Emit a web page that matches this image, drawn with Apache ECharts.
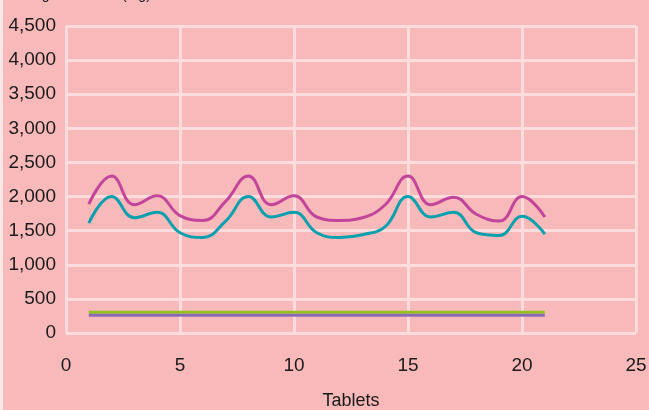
<!DOCTYPE html>
<html>
<head>
<meta charset="utf-8">
<script src="https://cdn.jsdelivr.net/npm/echarts@6/dist/echarts.min.js"></script>
<style>
  html, body { margin: 0; padding: 0; background: #fde6e6; }
  #chart { position: absolute; left: 3px; top: 0; width: 646px; height: 410px; }
</style>
</head>
<body>
<div id="chart"></div>
<script>
// Tablet numbers along the x axis
const tablets = [1, 2, 3, 4, 5, 6, 7, 8, 9, 10, 11, 12, 13, 14, 15, 16, 17, 18, 19, 20, 21];

// Measured values per tablet
const upperSeries = [1890, 2300, 1880, 2010, 1720, 1650, 1930, 2300, 1880, 2010, 1700, 1650, 1690, 1880, 2300, 1880, 1990, 1740, 1640, 2000, 1700];
const lowerSeries = [1610, 2000, 1690, 1770, 1470, 1400, 1640, 2000, 1700, 1770, 1470, 1400, 1440, 1560, 2000, 1700, 1770, 1470, 1430, 1710, 1450];
const greenLevel  = [305, 305, 305, 305, 305, 305, 305, 305, 305, 305, 305, 305, 305, 305, 305, 305, 305, 305, 305, 305, 305];
const purpleLevel = [262, 262, 262, 262, 262, 262, 262, 262, 262, 262, 262, 262, 262, 262, 262, 262, 262, 262, 262, 262, 262];

const yTitle = 'Weight of Tablet (mg)';
const xTitle = 'Tablets';

const FONT = "'Liberation Sans', Arial, sans-serif";
const GRID_LINE = { color: '#fcdcdc', width: 3 };

function pairs(values) {
  return tablets.map((t, i) => [t, values[i]]);
}

function lineSeries(values, color, width, smooth) {
  return {
    type: 'line',
    data: pairs(values),
    smooth: smooth,
    showSymbol: false,
    symbol: 'none',
    lineStyle: { color: color, width: width },
    itemStyle: { color: color },
    animation: false
  };
}

const chart = echarts.init(document.getElementById('chart'), null, { renderer: 'canvas' });
chart.setOption({
  backgroundColor: '#f8b9ba',
  animation: false,
  textStyle: { fontFamily: FONT },
  grid: { left: 63, right: 13, top: 26, bottom: 77, containLabel: false, outerBoundsMode: 'none' },
  graphic: [{
    type: 'text',
    left: 15,
    top: -12,
    style: { text: yTitle, font: '14px ' + FONT, fill: '#1a1a1a' }
  }],
  xAxis: {
    type: 'value',
    min: 0,
    max: 25,
    interval: 5,
    name: xTitle,
    nameLocation: 'middle',
    nameGap: 59,
    nameTextStyle: { fontSize: 18, color: '#1a1a1a', fontFamily: FONT },
    axisLine: { show: false },
    axisTick: { show: false },
    axisLabel: { fontSize: 19, color: '#1a1a1a', margin: 23, fontFamily: FONT },
    splitLine: { show: true, lineStyle: GRID_LINE }
  },
  yAxis: {
    type: 'value',
    min: 0,
    max: 4500,
    interval: 500,
    axisLine: { show: false },
    axisTick: { show: false },
    axisLabel: {
      fontSize: 19,
      color: '#1a1a1a',
      margin: 10,
      fontFamily: FONT,
      formatter: v => v.toLocaleString('en-US')
    },
    splitLine: { show: true, lineStyle: GRID_LINE }
  },
  series: [
    lineSeries(greenLevel, '#95c11f', 3, false),
    lineSeries(purpleLevel, '#8c6bb6', 3, false),
    lineSeries(upperSeries, '#c2449b', 3, 0.45),
    lineSeries(lowerSeries, '#0aa0ae', 3, 0.45)
  ]
});
</script>
</body>
</html>
